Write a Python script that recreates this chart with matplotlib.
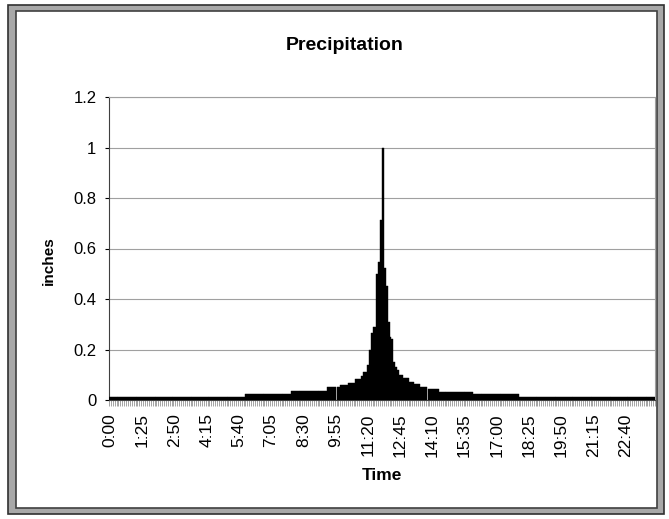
import matplotlib
matplotlib.use("Agg")
import matplotlib.pyplot as plt
from matplotlib.patches import Rectangle
import numpy as np

plt.rcParams['font.family'] = ['Liberation Sans', 'DejaVu Sans']

# 5-minute precipitation depths (inches), 288 intervals over 24 h
precip = (
    [0.012] * 72            # 0:00 - 5:55
    + [0.024] * 24          # 6:00 - 7:55
    + [0.035] * 19          # 8:00 - 9:30
    + [0.050] * 7           # 9:35 - 10:05
    + [0.059] * 4
    + [0.068] * 4
    + [0.082] * 3
    + [0.094]
    + [0.110] * 2
    + [0.138]
    + [0.200]
    + [0.265]
    + [0.290] * 2
    + [0.500]
    + [0.548]
    + [0.714]
    + [1.000]               # 12:00
    + [0.524]
    + [0.450]
    + [0.310]
    + [0.250]
    + [0.240]
    + [0.150]
    + [0.130]
    + [0.120]
    + [0.100] * 2
    + [0.087] * 3
    + [0.072] * 3
    + [0.063] * 3
    + [0.052] * 4
    + [0.043] * 6
    + [0.032] * 18
    + [0.023] * 24
    + [0.012] * 72
)

n = len(precip)
time_labels = ["%d:%02d" % ((i * 5) // 60, (i * 5) % 60) for i in range(n)]
label_step = 17
yticks = [0, 0.2, 0.4, 0.6, 0.8, 1.0, 1.2]
ytick_labels = ["0", "0.2", "0.4", "0.6", "0.8", "1", "1.2"]

W, H = 669, 519
fig = plt.figure(figsize=(W / 100, H / 100), dpi=100)

# scanned-style frame
fig.patches.append(Rectangle((8 / W, 5 / H), 656 / W, 509 / H, transform=fig.transFigure,
                             facecolor='#a8a8a8', edgecolor='#303030', linewidth=1.2, zorder=-3))
fig.patches.append(Rectangle((16 / W, 11 / H), 641 / W, 497 / H, transform=fig.transFigure,
                             facecolor='white', edgecolor='#404040', linewidth=1.2, zorder=-2))

ax = fig.add_axes([109 / W, (H - 400) / H, 546 / W, 303 / H])
ax.set_zorder(5)
ax.patch.set_alpha(0)
x = np.arange(n)
ax.bar(x, precip, width=1.0, color='black', edgecolor='black', linewidth=0.3, zorder=3)

ax.set_xlim(-0.5, n - 0.5)
ax.set_ylim(0, 1.2)
ax.set_yticks(yticks)
ax.set_yticklabels(ytick_labels, fontsize=12)
ax.yaxis.grid(True, color='#a0a0a0', linewidth=0.8, zorder=0)
ax.set_axisbelow(True)

major = np.arange(0, n, label_step)
ax.set_xticks(major)
ax.set_xticklabels([time_labels[i] for i in major], rotation=90, fontsize=12.5)
ax.set_xticks(np.arange(-0.5, n, 1.0), minor=True)
ax.tick_params(axis='x', which='major', length=0, pad=9.5)
ax.tick_params(axis='x', which='minor', length=4, width=0.4, color='#606060')
ax.tick_params(axis='y', length=3, width=0.8, pad=6)

for s in ['top', 'right']:
    ax.spines[s].set_color('#a0a0a0')
    ax.spines[s].set_linewidth(0.8)
ax.spines['left'].set_color('#404040')
ax.spines['bottom'].set_color('#404040')

ax.set_ylabel('inches', fontsize=11, fontweight='bold')
ax.yaxis.set_label_coords(-53 / 546, 0.46)
ax.set_xlabel('Time', fontsize=12.5, fontweight='bold', labelpad=8)
fig.text(345 / W, 1 - 45 / H, 'Precipitation', ha='center', va='center',
         fontsize=14, fontweight='bold')

fig.savefig('out.png', dpi=100)
